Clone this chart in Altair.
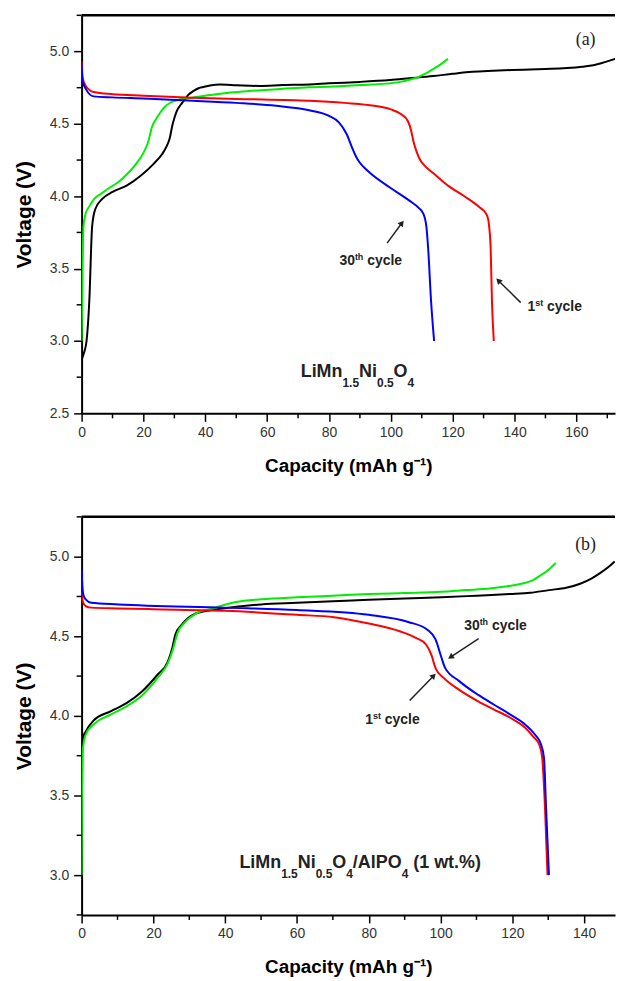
import math
import altair as alt
import pandas as pd

# ---------------- Panel (a): LiMn1.5Ni0.5O4 ----------------
a_ch1_cap = [0, 0.8, 1.6, 2.5, 3.4, 4.4, 6.6, 10, 14.7, 19, 23.3, 26, 27.6, 28.5, 29.2, 30.0, 30.8, 32.0,
             33.0, 34.5, 36.1, 38.0, 39.4, 41.5, 44.7, 50.2, 57.6, 65, 73.6, 80, 90, 99.7, 106, 113.7, 120,
             126.4, 133, 139, 145, 151.7, 157, 161.9, 165.5, 168.3, 170.5, 172.7]
a_ch1_v = [2.87, 2.92, 3.0, 3.28, 3.79, 3.91, 3.98, 4.03, 4.075, 4.14, 4.224, 4.29, 4.35, 4.40, 4.475, 4.54,
           4.59, 4.63, 4.658, 4.70, 4.726, 4.748, 4.755, 4.765, 4.772, 4.767, 4.762, 4.768, 4.772, 4.78, 4.79,
           4.803, 4.815, 4.83, 4.846, 4.86, 4.867, 4.872, 4.876, 4.88, 4.886, 4.895, 4.905, 4.92, 4.935, 4.95]

a_ch30_cap = [0, 0.3, 0.6, 1.3, 2.5, 4, 6.5, 9.4, 12, 14.6, 17.5, 20, 21.6, 22.7, 24, 25.5, 27, 28.7, 31, 34,
              40, 46.9, 55, 65, 73.6, 80, 90, 98.4, 103, 106, 109, 111, 113, 115, 117, 118.5]
a_ch30_v = [3.0, 3.5, 3.79, 3.88, 3.93, 3.98, 4.02, 4.064, 4.10, 4.15, 4.22, 4.30, 4.38, 4.475, 4.53, 4.58,
            4.62, 4.646, 4.665, 4.676, 4.695, 4.714, 4.728, 4.742, 4.753, 4.757, 4.768, 4.778, 4.79, 4.805,
            4.825, 4.845, 4.87, 4.895, 4.925, 4.95]

a_dis1_cap = [0, 0.3, 1.4, 3.9, 10, 20, 36, 50, 73.6, 85, 94.6, 100, 103.5, 105.5, 106.5, 107.3, 108.3, 109.5,
              111, 113.7, 118.7, 123.8, 128.9, 130.8, 131.5, 131.8, 132.3, 132.7, 133.3]
a_dis1_v = [4.93, 4.82, 4.76, 4.72, 4.705, 4.695, 4.68, 4.672, 4.66, 4.645, 4.625, 4.60, 4.565, 4.52, 4.46,
            4.38, 4.31, 4.25, 4.21, 4.16, 4.07, 4.0, 3.92, 3.88, 3.84, 3.79, 3.63, 3.28, 3.0]

a_dis30_cap = [0, 0.3, 1.4, 3.9, 10, 20, 36, 50, 62.9, 73.6, 80, 83.2, 85.7, 87.4, 88.5, 89.7, 91.3, 93.3,
               99.7, 106, 109, 110.5, 111.5, 112.1, 113, 114]
a_dis30_v = [4.92, 4.80, 4.74, 4.69, 4.683, 4.675, 4.66, 4.645, 4.625, 4.594, 4.555, 4.51, 4.43, 4.34, 4.285,
             4.24, 4.20, 4.16, 4.06, 3.97, 3.92, 3.88, 3.79, 3.63, 3.28, 3.0]

# ---------------- Panel (b): LiMn1.5Ni0.5O4/AlPO4 ----------------
b_ch1_cap = [0, 0.1, 0.2, 0.5, 1.1, 3.3, 8.2, 12.5, 16.9, 21.2, 24, 25.3, 26.1, 27.8, 31, 36.5, 43, 50, 60,
             70, 80, 90, 100.2, 110, 119.3, 125, 130.2, 135, 138.9, 142, 144.3, 146.5, 148.5]
b_ch1_v = [3.1, 3.5, 3.82, 3.87, 3.90, 3.97, 4.03, 4.08, 4.155, 4.26, 4.34, 4.43, 4.51, 4.57, 4.635, 4.665,
           4.685, 4.70, 4.71, 4.72, 4.73, 4.738, 4.745, 4.755, 4.765, 4.773, 4.79, 4.805, 4.83, 4.862, 4.895,
           4.93, 4.97]

b_ch30_cap = [0, 0.1, 0.3, 1.1, 3.3, 8.2, 12.5, 16.9, 21.2, 24, 25.6, 26.7, 28.9, 32.1, 36.5, 43, 50, 60, 70,
              80, 90, 100.2, 107, 113.8, 118, 122.5, 125.5, 128, 130.2, 132.1]
b_ch30_v = [3.0, 3.5, 3.78, 3.88, 3.945, 4.01, 4.06, 4.13, 4.24, 4.33, 4.43, 4.52, 4.59, 4.645, 4.675, 4.715,
            4.732, 4.745, 4.755, 4.765, 4.772, 4.78, 4.79, 4.80, 4.812, 4.83, 4.85, 4.885, 4.92, 4.96]

b_dis1_cap = [0, 0.3, 1.1, 2.7, 10, 20, 40, 60, 70.3, 80, 88.8, 93.1, 95.9, 97.5, 98.6, 100.8, 105.1, 110.6,
              114.9, 119.3, 123.6, 125.8, 127.5, 128.3, 129.1, 129.8]
b_dis1_v = [4.78, 4.72, 4.69, 4.68, 4.675, 4.67, 4.66, 4.635, 4.62, 4.58, 4.53, 4.49, 4.45, 4.38, 4.30, 4.24,
            4.165, 4.09, 4.04, 3.99, 3.925, 3.87, 3.82, 3.74, 3.42, 3.0]

b_dis30_cap = [0, 0.2, 0.5, 1.2, 2.7, 10.3, 40, 60, 80, 91, 96.4, 98.6, 100.2, 101.3, 105.1, 110.6, 114.9,
               119.3, 123.6, 126.4, 128, 128.8, 129.4, 130.2]
b_dis30_v = [4.92, 4.82, 4.76, 4.73, 4.71, 4.70, 4.68, 4.665, 4.635, 4.59, 4.54, 4.48, 4.37, 4.30, 4.22, 4.13,
             4.07, 4.01, 3.945, 3.88, 3.82, 3.74, 3.42, 3.0]

# ---------------- axes ----------------
a_xticks = [0, 20, 40, 60, 80, 100, 120, 140, 160]
a_xminor = [10, 30, 50, 70, 90, 110, 130, 150, 170]
a_yticks = [2.5, 3.0, 3.5, 4.0, 4.5, 5.0]
a_yminor = [2.75, 3.25, 3.75, 4.25, 4.75, 5.25]
b_xticks = [0, 20, 40, 60, 80, 100, 120, 140]
b_xminor = [10, 30, 50, 70, 90, 110, 130]
b_yticks = [3.0, 3.5, 4.0, 4.5, 5.0]
b_yminor = [2.75, 3.25, 3.75, 4.25, 4.75, 5.25]

# ---------------- annotations (segments: text, kind 'n' normal / 'sub' / 'sup') ----------------
cyc30 = [("30", "n"), ("th", "sup"), (" cycle", "n")]
cyc1 = [("1", "n"), ("st", "sup"), (" cycle", "n")]
a_formula = [("LiMn", "n"), ("1.5", "sub"), ("Ni", "n"), ("0.5", "sub"), ("O", "n"), ("4", "sub")]
b_formula = [("LiMn", "n"), ("1.5", "sub"), ("Ni", "n"), ("0.5", "sub"), ("O", "n"), ("4", "sub"),
             ("/AlPO", "n"), ("4", "sub"), (" (1 wt.%)", "n")]

a_cyc_cap = [93.5, 153.0]
a_cyc_v = [3.56, 3.24]
a_form_cap, a_form_v = 89.2, 2.795
a_arrow_tail_cap = [98.8, 142.0]
a_arrow_tail_v = [3.676, 3.265]
a_arrow_head_cap = [103.4, 135.0]
a_arrow_head_v = [3.81, 3.413]

b_cyc_cap = [115.3, 86.6]
b_cyc_v = [4.574, 3.98]
b_form_cap, b_form_v = 77.6, 3.085
b_arrow_tail_cap = [110.6, 91.4]
b_arrow_tail_v = [4.486, 4.097]
b_arrow_head_cap = [103.0, 97.9]
b_arrow_head_v = [4.373, 4.248]

W, H = 536, 400
FONT = "Liberation Sans"

# Arial/Liberation Sans Bold advance widths (per 1000 em)
ADV = {"L": 611, "i": 278, "M": 833, "n": 611, "N": 722, "O": 778, "/": 278, "A": 722, "l": 278,
       "P": 667, " ": 278, "(": 333, ")": 333, "w": 778, "t": 333, ".": 278, "%": 889, "h": 611,
       "c": 556, "y": 556, "e": 556, "s": 556}


def text_w(s, size):
    return sum(ADV.get(ch, 556) for ch in s) / 1000.0 * size


def rich(cap, v, segments, size, small, small_dy, X, Y):
    """Layers of left-aligned text pieces centred on (cap, v)."""
    sizes = [size if k == "n" else small for _, k in segments]
    widths = [text_w(t, s) for (t, _), s in zip(segments, sizes)]
    total = sum(widths)
    x0 = -total / 2.0
    base_dy = size * 0.36
    out = []
    for (t, k), s, w in zip(segments, sizes, widths):
        stripped = t.lstrip(" ")
        lead = text_w(t[: len(t) - len(stripped)], s)
        dy = base_dy + (small_dy if k == "sub" else (-small_dy if k == "sup" else 0))
        df = pd.DataFrame({"cap": [cap], "v": [v], "label": [stripped]})
        out.append(alt.Chart(df).mark_text(font=FONT, fontSize=s, fontWeight="bold", color="#222",
                                           align="left", baseline="alphabetic",
                                           dx=x0 + lead, dy=dy)
                   .encode(x=X(), y=Y(), text="label:N"))
        x0 += w
    return out


def panel(series, xmax, ymin, ymax, xticks, xminor, yticks, yminor,
          cyc_cap, cyc_v, form, form_cap, form_v, atc, atv, ahc, ahv, tag, tag_cap, tag_v):
    xs = alt.Scale(domain=[0, xmax], nice=False, zero=False)
    ys = alt.Scale(domain=[ymin, ymax], nice=False, zero=False)
    xaxis = alt.Axis(values=xticks, format="d", title="Capacity (mAh g⁻¹)", grid=False,
                     domainColor="black", domainWidth=2, tickColor="black", tickWidth=1.5,
                     tickSize=8, labelFont=FONT, labelFontSize=14, labelColor="#333",
                     labelPadding=4, titleFont=FONT, titleFontSize=19, titleFontWeight="bold",
                     titleColor="black", titlePadding=17, labelFlush=False)
    yaxis = alt.Axis(values=yticks, format=".1f", title="Voltage (V)", grid=False,
                     domainColor="black", domainWidth=2, tickColor="black", tickWidth=1.5,
                     tickSize=8, labelFont=FONT, labelFontSize=14, labelColor="#333",
                     labelPadding=5, titleFont=FONT, titleFontSize=21, titleFontWeight="bold",
                     titleColor="black", titlePadding=15, labelFlush=False)

    def X(f="cap"):
        return alt.X(f"{f}:Q", scale=xs, axis=xaxis)

    def Y(f="v"):
        return alt.Y(f"{f}:Q", scale=ys, axis=yaxis)

    layers = []
    for cap, v, color in series:
        df = pd.DataFrame({"cap": cap, "v": v, "i": list(range(len(cap)))})
        layers.append(
            alt.Chart(df).mark_line(color=color, strokeWidth=2, clip=True, interpolate="monotone")
            .encode(x=X(), y=Y(), order="i:Q")
        )
    # minor ticks
    layers.append(alt.Chart(pd.DataFrame({"v": yminor})).mark_rule(color="black", strokeWidth=1.5)
                  .encode(y=Y(), x=alt.value(-5), x2=alt.value(0)))
    layers.append(alt.Chart(pd.DataFrame({"cap": xminor})).mark_rule(color="black", strokeWidth=1.5)
                  .encode(x=X(), y=alt.value(H), y2=alt.value(H + 5)))
    # top frame
    layers.append(alt.Chart(pd.DataFrame({"cap": [0]})).mark_rule(color="black", strokeWidth=2.5)
                  .encode(x=alt.value(0), x2=alt.value(W), y=alt.value(0)))
    # cycle labels with superscripts
    layers += rich(cyc_cap[0], cyc_v[0], cyc30, 14, 9, 5, X, Y)
    layers += rich(cyc_cap[1], cyc_v[1], cyc1, 14, 9, 5, X, Y)
    # formula with subscripts
    layers += rich(form_cap, form_v, form, 18, 12, 10, X, Y)
    # panel tag
    gdf = pd.DataFrame({"cap": [tag_cap], "v": [tag_v], "label": [tag]})
    layers.append(alt.Chart(gdf).mark_text(font="Liberation Serif", fontSize=18, color="#222",
                                           align="center", baseline="middle")
                  .encode(x=X(), y=Y(), text="label:N"))
    # arrows
    pxx = W / xmax
    pxy = H / (ymax - ymin)
    ang = []
    for c1, v1, c2, v2 in zip(atc, atv, ahc, ahv):
        dx = (c2 - c1) * pxx
        dy_up = (v2 - v1) * pxy
        ang.append(math.degrees(math.atan2(dx, dy_up)) % 360)
    adf = pd.DataFrame({"cap": atc, "v": atv, "cap2": ahc, "v2": ahv, "ang": ang})
    layers.append(alt.Chart(adf).mark_rule(color="#222", strokeWidth=1.5)
                  .encode(x=X(), y=Y(), x2="cap2:Q", y2="v2:Q"))
    layers.append(alt.Chart(adf).mark_point(shape="triangle", filled=True, color="#222", size=45, opacity=1)
                  .encode(x=X("cap2"), y=Y("v2"), angle=alt.Angle("ang:Q", scale=None)))
    return alt.layer(*layers).properties(width=W, height=H)


pa = panel([(a_ch1_cap, a_ch1_v, "black"), (a_ch30_cap, a_ch30_v, "#00ee00"),
            (a_dis1_cap, a_dis1_v, "#ff0000"), (a_dis30_cap, a_dis30_v, "#0000ff")],
           172.5, 2.5, 5.25, a_xticks, a_xminor, a_yticks, a_yminor,
           a_cyc_cap, a_cyc_v, a_formula, a_form_cap, a_form_v,
           a_arrow_tail_cap, a_arrow_tail_v, a_arrow_head_cap, a_arrow_head_v, "(a)", 163.0, 5.082)

pb = panel([(b_ch1_cap, b_ch1_v, "black"), (b_ch30_cap, b_ch30_v, "#00ee00"),
            (b_dis1_cap, b_dis1_v, "#ff0000"), (b_dis30_cap, b_dis30_v, "#0000ff")],
           148.6, 2.75, 5.25, b_xticks, b_xminor, b_yticks, b_yminor,
           b_cyc_cap, b_cyc_v, b_formula, b_form_cap, b_form_v,
           b_arrow_tail_cap, b_arrow_tail_v, b_arrow_head_cap, b_arrow_head_v, "(b)", 140.4, 5.073)

chart = alt.vconcat(pa, pb, spacing=40).properties(
    padding={"left": 13, "top": 11, "right": 0, "bottom": 0},
    background="white",
).configure_view(stroke=None)

chart.save("out.html", embed_options={"renderer": "svg", "actions": False})
